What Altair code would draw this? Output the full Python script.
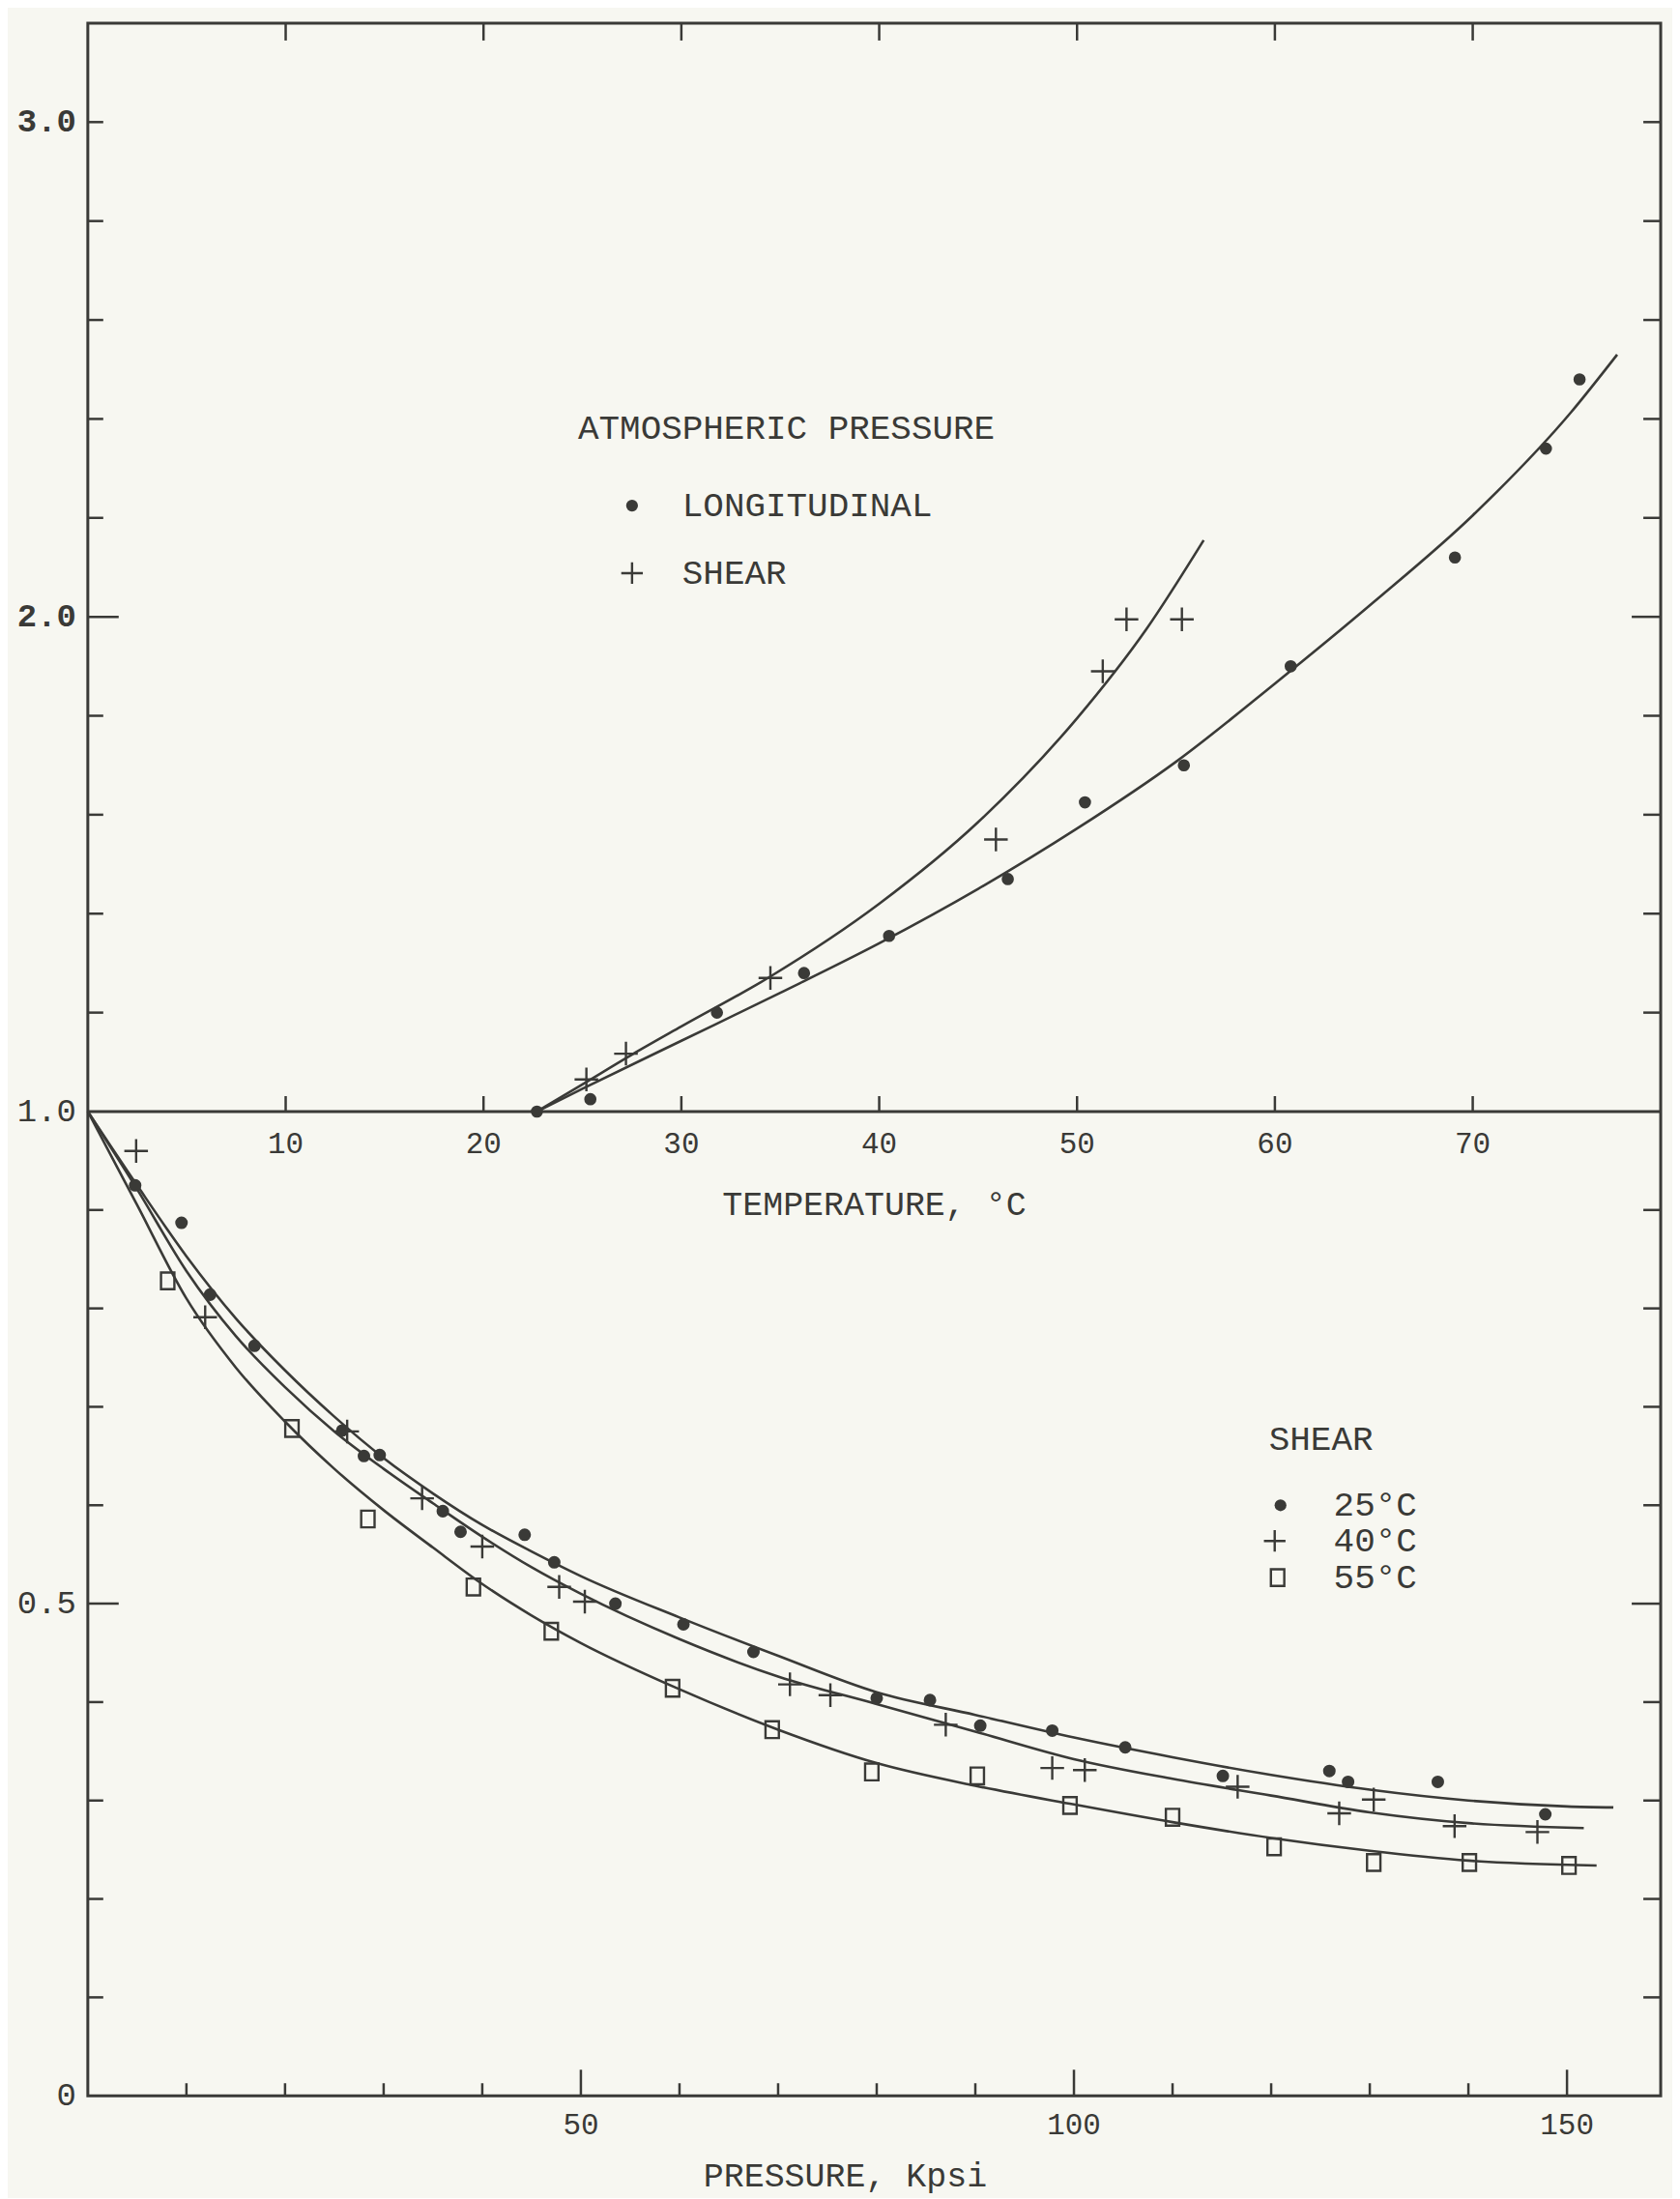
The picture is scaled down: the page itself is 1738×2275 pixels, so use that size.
import altair as alt
import pandas as pd

# ---------------- data ----------------
# Upper panel: ratio vs temperature (atmospheric pressure)
LONG_T = [22.7, 25.4, 31.8, 36.2, 40.5, 46.5, 50.4, 55.4, 60.8, 69.1, 73.7, 75.4]
LONG_V = [1.00, 1.025, 1.20, 1.28, 1.355, 1.47, 1.625, 1.70, 1.90, 2.12, 2.34, 2.48]
LONG_CURVE_T = [22.7, 25, 30, 35, 40, 45, 50, 55, 60, 65, 70, 75, 77.3]
LONG_CURVE_V = [1.00, 1.046, 1.143, 1.24, 1.34, 1.45, 1.572, 1.707, 1.865, 2.03, 2.205, 2.415, 2.53]

SHEAR_T = [25.2, 27.2, 34.5, 45.9, 51.3, 52.5, 55.3]
SHEAR_V = [1.065, 1.117, 1.27, 1.55, 1.89, 1.995, 1.995]
SHEAR_CURVE_T = [22.7, 25, 27.5, 30, 34.5, 40, 45, 50, 53.5, 56.4]
SHEAR_CURVE_V = [1.00, 1.055, 1.115, 1.172, 1.273, 1.42, 1.585, 1.795, 1.975, 2.155]

# Lower panel: shear ratio vs pressure
S25_P = [4.8, 9.5, 12.4, 16.9, 25.8, 28.0, 29.6, 36.0, 37.8, 44.3, 47.3, 53.5, 60.4, 67.5,
         80.0, 85.4, 90.5, 97.8, 105.2, 115.1, 125.9, 127.8, 136.9, 147.8]
S25_V = [0.925, 0.887, 0.814, 0.762, 0.676, 0.65, 0.651, 0.594, 0.573, 0.57, 0.542, 0.50, 0.479, 0.451,
         0.404, 0.402, 0.376, 0.371, 0.354, 0.325, 0.330, 0.319, 0.319, 0.286]
S40_P = [4.9, 11.9, 26.3, 33.9, 40.0, 47.8, 50.4, 71.2, 75.3, 87.0, 97.8, 101.1, 116.6, 126.9,
         130.4, 138.6, 147.0]
S40_V = [0.96, 0.791, 0.675, 0.607, 0.558, 0.517, 0.502, 0.418, 0.407, 0.377, 0.333, 0.331, 0.314, 0.287,
         0.301, 0.274, 0.268]
S55_P = [8.1, 20.7, 28.4, 39.1, 47.0, 59.3, 69.4, 79.5, 90.2, 99.6, 110.0, 120.3, 130.4, 140.1, 150.2]
S55_V = [0.828, 0.678, 0.586, 0.517, 0.472, 0.414, 0.372, 0.329, 0.325, 0.295, 0.283, 0.253, 0.237, 0.237, 0.234]

C25_P = [0, 5, 10, 15, 20, 25, 30, 35, 40, 45, 50, 60, 70, 80, 90, 100, 110, 120, 130, 140, 150, 154.7]
C25_V = [1.0, 0.925, 0.853, 0.79, 0.737, 0.69, 0.648, 0.612, 0.58, 0.553, 0.528, 0.486, 0.447, 0.41,
         0.387, 0.364, 0.344, 0.326, 0.311, 0.300, 0.294, 0.293]
C40_P = [0, 5, 10, 15, 20, 25, 30, 35, 40, 45, 50, 60, 70, 80, 90, 100, 110, 120, 130, 140, 151.7]
C40_V = [1.0, 0.921, 0.838, 0.772, 0.72, 0.675, 0.637, 0.602, 0.568, 0.537, 0.51, 0.464, 0.426, 0.398,
         0.37, 0.342, 0.322, 0.305, 0.288, 0.277, 0.272]
C55_P = [0, 5, 10, 15, 20, 25, 30, 35, 40, 45, 50, 60, 70, 80, 90, 100, 110, 120, 130, 140, 153]
C55_V = [1.0, 0.905, 0.81, 0.74, 0.685, 0.637, 0.595, 0.557, 0.52, 0.488, 0.46, 0.413, 0.372, 0.338,
         0.315, 0.296, 0.278, 0.262, 0.249, 0.239, 0.234]

# ticks and labels
TEMP_TICKS = [10, 20, 30, 40, 50, 60, 70]
TEMP_LABELS = ["10", "20", "30", "40", "50", "60", "70"]
P_TICKS_MINOR = [10, 20, 30, 40, 60, 70, 80, 90, 110, 120, 130, 140]
P_TICKS_MAJOR = [50, 100, 150]
P_LABELS = [50, 100, 150]
P_LABEL_TEXT = ["50", "100", "150"]
Y_TICKS_MINOR = [0.1, 0.2, 0.3, 0.4, 0.6, 0.7, 0.8, 0.9, 1.2, 1.4, 1.6, 1.8, 2.2, 2.4, 2.6, 2.8, 3.0]
Y_TICKS_MAJOR = [0.5, 2.0]
Y_LABELS = [0, 0.5, 1.0]
Y_LABEL_TEXT = ["0", "0.5", "1.0"]
Y_LABELS_BOLD = [2.0, 3.0]
Y_LABEL_BOLD_TEXT = ["2.0", "3.0"]

# ---------------- styling ----------------
INK = "#3a3a37"
PAPER = "#f7f7f1"
FONT = "Liberation Mono"
W, H = 1630, 2148
H_TOP = 1128
PLUS = "M-1,0H1M0,-1V1"
RECT = "M-0.8,-1H0.8V1H-0.8Z"

T_SCALE = alt.Scale(domain=[0, 79.5], nice=False, zero=False)
P_SCALE = alt.Scale(domain=[0, 159.5], nice=False, zero=False)
Y_SCALE = alt.Scale(domain=[0, 1.0, 3.2], range=[H, H_TOP, 0], nice=False, zero=False)


def xt(f="T"):
    return alt.X(f"{f}:Q", scale=T_SCALE, axis=None)


def xp(f="P"):
    return alt.X(f"{f}:Q", scale=P_SCALE, axis=None)


def yv(f="v"):
    return alt.Y(f"{f}:Q", scale=Y_SCALE, axis=None)


def line(df, x):
    return alt.Chart(df).mark_line(color=INK, strokeWidth=2.6, interpolate="monotone").encode(x=x, y=yv())


def dots(df, x, size=170):
    return alt.Chart(df).mark_point(shape="circle", filled=True, size=size, color=INK, opacity=1).encode(x=x, y=yv())


def plus(df, x, size=600):
    return alt.Chart(df).mark_point(shape=PLUS, filled=False, size=size, color=INK, strokeWidth=2.4, opacity=1).encode(x=x, y=yv())


def rects(df, x, size=300):
    return alt.Chart(df).mark_point(shape=RECT, filled=False, size=size, color=INK, strokeWidth=2.4, opacity=1).encode(x=x, y=yv())


def txt(s, x, y, size=36, align="left"):
    return alt.Chart(pd.DataFrame({"s": [s]})).mark_text(
        font=FONT, fontSize=size, color=INK, align=align, baseline="middle"
    ).encode(x=alt.value(x), y=alt.value(y), text="s:N")


one = pd.DataFrame({"k": [0]})


def sym(kind, x, y):
    base = alt.Chart(one)
    if kind == "dot":
        m = base.mark_point(shape="circle", filled=True, size=150, color=INK, opacity=1)
    elif kind == "plus":
        m = base.mark_point(shape=PLUS, filled=False, size=500, color=INK, strokeWidth=2.4, opacity=1)
    else:
        m = base.mark_point(shape=RECT, filled=False, size=300, color=INK, strokeWidth=2.4, opacity=1)
    return m.encode(x=alt.value(x), y=alt.value(y))


# ---------------- upper (temperature) panel ----------------
df_long = pd.DataFrame({"T": LONG_T, "v": LONG_V})
df_longc = pd.DataFrame({"T": LONG_CURVE_T, "v": LONG_CURVE_V})
df_sh = pd.DataFrame({"T": SHEAR_T, "v": SHEAR_V})
df_shc = pd.DataFrame({"T": SHEAR_CURVE_T, "v": SHEAR_CURVE_V})
df_tt = pd.DataFrame({"T": TEMP_TICKS, "lab": TEMP_LABELS})

temp_layers = [
    line(df_longc, xt()),
    line(df_shc, xt()),
    dots(df_long, xt(), size=160),
    plus(df_sh, xt()),
    alt.Chart(df_tt).mark_rule(color=INK, strokeWidth=2.5).encode(
        x=xt(), y=alt.value(0), y2=alt.value(18)),
    alt.Chart(df_tt).mark_rule(color=INK, strokeWidth=2.5).encode(
        x=xt(), y=alt.value(H_TOP), y2=alt.value(H_TOP - 16)),
    alt.Chart(df_tt).mark_text(font=FONT, fontSize=31, color=INK, baseline="middle").encode(
        x=xt(), y=alt.value(H_TOP + 34), text="lab:N"),
    txt("TEMPERATURE, °C", W / 2, H_TOP + 96, size=35, align="center"),
    txt("ATMOSPHERIC PRESSURE", 508, 420),
    sym("dot", 564, 500),
    txt("LONGITUDINAL", 616, 500),
    sym("plus", 564, 570),
    txt("SHEAR", 616, 570),
]
temp_group = alt.layer(*temp_layers)

# ---------------- lower (pressure) panel ----------------
df25 = pd.DataFrame({"P": S25_P, "v": S25_V})
df40 = pd.DataFrame({"P": S40_P, "v": S40_V})
df55 = pd.DataFrame({"P": S55_P, "v": S55_V})
dfc25 = pd.DataFrame({"P": C25_P, "v": C25_V})
dfc40 = pd.DataFrame({"P": C40_P, "v": C40_V})
dfc55 = pd.DataFrame({"P": C55_P, "v": C55_V})

df_pmin = pd.DataFrame({"P": P_TICKS_MINOR})
df_pmaj = pd.DataFrame({"P": P_TICKS_MAJOR})
df_plab = pd.DataFrame({"P": P_LABELS, "lab": P_LABEL_TEXT})
df_ymin = pd.DataFrame({"v": Y_TICKS_MINOR})
df_ymaj = pd.DataFrame({"v": Y_TICKS_MAJOR})
df_ylab = pd.DataFrame({"v": Y_LABELS, "lab": Y_LABEL_TEXT})
df_ylabb = pd.DataFrame({"v": Y_LABELS_BOLD, "lab": Y_LABEL_BOLD_TEXT})
df_div = pd.DataFrame({"v": [1.0]})

pres_layers = [
    line(dfc25, xp()),
    line(dfc40, xp()),
    line(dfc55, xp()),
    dots(df25, xp()),
    plus(df40, xp()),
    rects(df55, xp()),
    alt.Chart(df_pmin).mark_rule(color=INK, strokeWidth=2.5).encode(
        x=xp(), y=alt.value(H), y2=alt.value(H - 13)),
    alt.Chart(df_pmaj).mark_rule(color=INK, strokeWidth=2.5).encode(
        x=xp(), y=alt.value(H), y2=alt.value(H - 27)),
    alt.Chart(df_plab).mark_text(font=FONT, fontSize=31, color=INK, baseline="middle").encode(
        x=xp(), y=alt.value(H + 31), text="lab:N"),
    txt("PRESSURE, Kpsi", 785, H + 83, size=35, align="center"),
    alt.Chart(df_ymin).mark_rule(color=INK, strokeWidth=2.5).encode(
        y=yv(), x=alt.value(0), x2=alt.value(16)),
    alt.Chart(df_ymaj).mark_rule(color=INK, strokeWidth=2.5).encode(
        y=yv(), x=alt.value(0), x2=alt.value(32)),
    alt.Chart(df_ymin).mark_rule(color=INK, strokeWidth=2.5).encode(
        y=yv(), x=alt.value(W), x2=alt.value(W - 18)),
    alt.Chart(df_ymaj).mark_rule(color=INK, strokeWidth=2.5).encode(
        y=yv(), x=alt.value(W), x2=alt.value(W - 30)),
    alt.Chart(df_ylab).mark_text(font=FONT, fontSize=34, color=INK, align="right", baseline="middle").encode(
        y=yv(), x=alt.value(-12), text="lab:N"),
    alt.Chart(df_ylabb).mark_text(font=FONT, fontSize=34, fontWeight="bold", color=INK, align="right",
                                  baseline="middle").encode(
        y=yv(), x=alt.value(-12), text="lab:N"),
    alt.Chart(df_div).mark_rule(color=INK, strokeWidth=3).encode(
        y=yv(), x=alt.value(0), x2=alt.value(W)),
    txt("SHEAR", 1224, 1468),
    sym("dot", 1236, 1536),
    txt("25°C", 1291, 1536),
    sym("plus", 1230, 1573),
    txt("40°C", 1291, 1573),
    sym("rect", 1233, 1611),
    txt("55°C", 1291, 1611),
]
pres_group = alt.layer(*pres_layers)

chart = (
    alt.layer(temp_group, pres_group)
    .resolve_scale(x="independent")
    .properties(
        width=W,
        height=H,
        padding={"left": 83, "top": 14, "right": 12, "bottom": 104},
        autosize=alt.AutoSizeParams(type="none"),
        background=PAPER,
    )
    .configure_view(stroke=INK, strokeWidth=3)
)

chart.save("out.html", embed_options={"renderer": "svg", "actions": False})
